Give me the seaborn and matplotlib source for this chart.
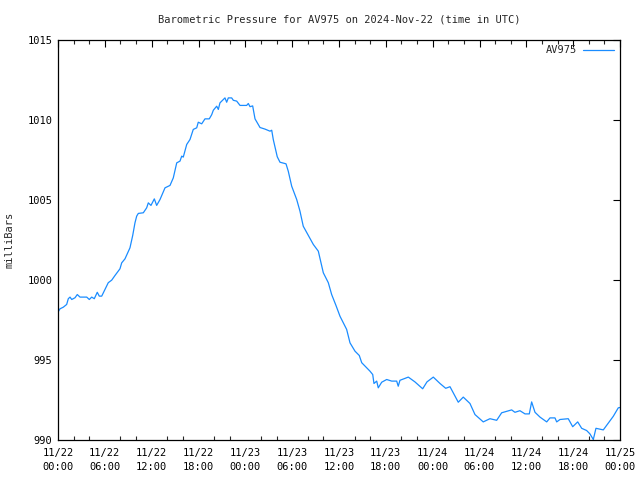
import matplotlib
matplotlib.use("Agg")
import matplotlib.pyplot as plt
import seaborn as sns
import pandas as pd
from matplotlib.ticker import MultipleLocator

# hours since 2024-11-22 00:00 UTC
hours = [0.0, 0.26, 0.68, 1.11, 1.32, 1.54, 1.76, 2.18, 2.47, 2.82, 3.68, 4.01, 4.32, 4.65,
         5.03, 5.29, 5.60, 6.02, 6.44, 6.88, 7.30, 7.94, 8.16, 8.58, 9.22, 9.57, 9.86, 10.08,
         10.29, 10.93, 11.36, 11.57, 11.91, 12.34, 12.64, 13.07, 13.71, 14.35, 14.77, 15.21,
         15.63, 15.85, 16.05, 16.49, 16.91, 17.33, 17.77, 17.97, 18.41, 18.83, 19.38, 19.69,
         19.90, 20.33, 20.54, 20.75, 21.18, 21.39, 21.61, 21.82, 22.25, 22.46, 22.89, 23.32,
         24.17, 24.38, 24.60, 24.94, 25.24, 25.88, 26.52, 27.16, 27.38, 27.58, 28.09, 28.44,
         29.21, 29.50, 29.94, 30.58, 31.00, 31.42, 32.07, 32.71, 33.35, 33.65, 33.99, 34.63,
         35.06, 35.61, 36.13, 36.98, 37.41, 38.05, 38.60, 38.91, 39.97, 40.32, 40.48, 40.83,
         41.03, 41.47, 42.11, 42.75, 43.39, 43.59, 43.81, 44.88, 45.73, 46.72, 47.27, 48.08,
         48.94, 49.67, 50.22, 51.28, 51.92, 52.78, 53.42, 54.48, 55.34, 56.20, 56.84, 58.12,
         58.54, 59.18, 59.83, 60.38, 60.68, 61.11, 61.75, 62.61, 63.03, 63.67, 63.89, 64.31,
         65.37, 65.94, 66.58, 67.09, 67.73, 68.15, 68.58, 68.92, 69.86, 71.14, 71.78, 72.0]
pressure = [997.96, 998.17, 998.27, 998.44, 998.80, 998.90, 998.75, 998.86, 999.06, 998.90,
            998.90, 998.75, 998.90, 998.80, 999.20, 998.96, 998.96, 999.38, 999.80, 999.96,
            1000.25, 1000.67, 1001.04, 1001.29, 1001.98, 1002.75, 1003.54, 1003.96, 1004.13,
            1004.17, 1004.48, 1004.79, 1004.63, 1005.04, 1004.63, 1005.00, 1005.73, 1005.88,
            1006.35, 1007.29, 1007.40, 1007.71, 1007.65, 1008.44, 1008.75, 1009.38, 1009.48,
            1009.83, 1009.73, 1010.04, 1010.04, 1010.30, 1010.58, 1010.83, 1010.63, 1011.04,
            1011.25, 1011.35, 1011.08, 1011.35, 1011.35, 1011.20, 1011.15, 1010.88, 1010.88,
            1011.00, 1010.80, 1010.85, 1010.04, 1009.50, 1009.40, 1009.27, 1009.33, 1008.75,
            1007.67, 1007.33, 1007.23, 1006.77, 1005.83, 1005.00, 1004.27, 1003.33, 1002.75,
            1002.19, 1001.77, 1001.15, 1000.42, 999.80, 999.06, 998.38, 997.70, 996.88, 996.04,
            995.52, 995.25, 994.80, 994.27, 994.06, 993.50, 993.65, 993.23, 993.58, 993.75,
            993.65, 993.65, 993.33, 993.70, 993.90, 993.60, 993.17, 993.60, 993.90, 993.50,
            993.20, 993.30, 992.33, 992.65, 992.25, 991.56, 991.10, 991.30, 991.20, 991.67,
            991.85, 991.70, 991.80, 991.60, 991.60, 992.35, 991.70, 991.40, 991.10, 991.35,
            991.35, 991.10, 991.25, 991.30, 990.80, 991.10, 990.70, 990.56, 990.35, 990.00,
            990.70, 990.60, 991.45, 991.98, 992.00]

tick_hours = [0, 6, 12, 18, 24, 30, 36, 42, 48, 54, 60, 66, 72]
tick_labels = ["11/22\n00:00", "11/22\n06:00", "11/22\n12:00", "11/22\n18:00",
               "11/23\n00:00", "11/23\n06:00", "11/23\n12:00", "11/23\n18:00",
               "11/24\n00:00", "11/24\n06:00", "11/24\n12:00", "11/24\n18:00",
               "11/25\n00:00"]
y_ticks = [990, 995, 1000, 1005, 1010, 1015]

title = "Barometric Pressure for AV975 on 2024-Nov-22 (time in UTC)"
series_name = "AV975"

sns.set_style("white")
plt.rcParams['font.family'] = ['DejaVu Sans Mono']
plt.rcParams['font.size'] = 7.5

df = pd.DataFrame({"hours": hours, "pressure": pressure, "station": series_name})

fig = plt.figure(figsize=(6.4, 4.8), dpi=100)
ax = fig.add_axes([58/640, 40.5/480, 562/640, 400/480])

sns.lineplot(data=df, x="hours", y="pressure", hue="station",
             palette=["#1a8cff"], linewidth=0.9, ax=ax)

ax.set_xlim(0, 72)
ax.set_ylim(990, 1015)
ax.set_xticks(tick_hours)
ax.set_xticklabels(tick_labels, linespacing=1.55)
ax.xaxis.set_minor_locator(MultipleLocator(2))
ax.set_yticks(y_ticks)
ax.set_yticklabels([str(v) for v in y_ticks])
ax.tick_params(axis="both", which="major", direction="in", length=5, width=0.8,
               top=True, right=True, colors="black", labelsize=7.5, pad=4)
ax.tick_params(axis="x", which="major", pad=6)
ax.tick_params(axis="x", which="minor", direction="in", length=3, width=0.8,
               top=True, bottom=True)
for sp in ax.spines.values():
    sp.set_visible(True)
    sp.set_color("black")
    sp.set_linewidth(0.9)

ax.set_xlabel("")
ax.set_ylabel("milliBars", fontsize=7.5, labelpad=9)
ax.set_title(title, fontsize=7.5, pad=12)

leg = ax.legend(loc="upper right", frameon=False, markerfirst=False,
                handlelength=3.0, handletextpad=0.6, fontsize=7.5,
                borderaxespad=0.15)

fig.savefig("out.png", dpi=100)
